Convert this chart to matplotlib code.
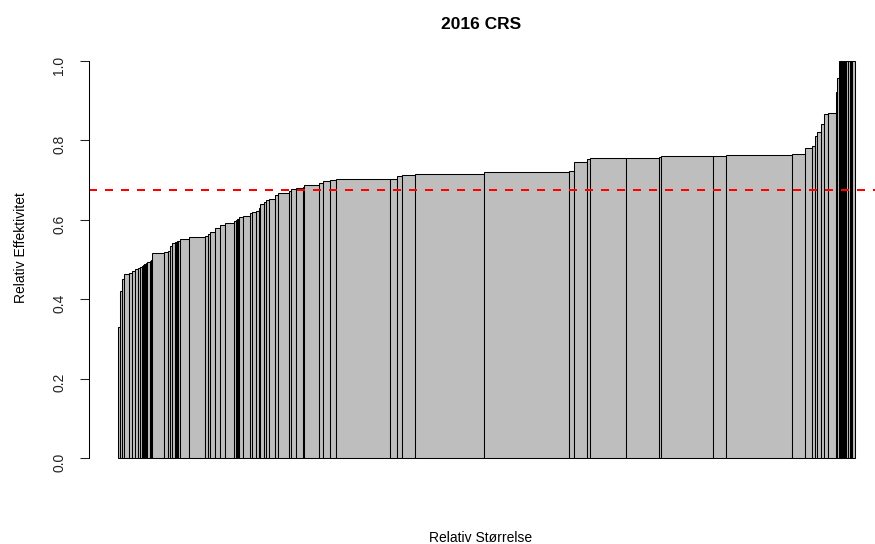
import matplotlib
matplotlib.use("Agg")
import matplotlib.pyplot as plt
import numpy as np

plt.rcParams['font.family'] = ['Liberation Sans', 'DejaVu Sans']

# relative size (bar width) and relative efficiency (bar height), sorted by efficiency
storrelse = [2.0, 2.0, 2.0, 5.0, 3.0, 2.7, 2.6, 2.7, 1.5, 1.0,
             1.0, 1.0, 1.0, 1.2, 2.6, 0.9, 0.8, 0.7, 11.6, 4.0,
             2.7, 1.7, 3.3, 1.0, 1.0, 1.0, 1.3, 9.0, 16.7, 2.3,
             2.0, 5.0, 5.0, 5.7, 8.3, 2.0, 1.0, 1.0, 1.4, 4.0,
             6.6, 2.7, 4.0, 2.3, 1.0, 4.0, 2.7, 2.7, 5.6, 3.4,
             10.6, 2.4, 5.3, 6.7, 1.0, 14.6, 4.4, 7.3, 6.0, 53.3,
             7.4, 5.0, 12.6, 69.0, 85.4, 5.3, 12.7, 2.6, 36.7, 32.3,
             2.7, 51.7, 12.6, 66.4, 13.3, 6.7, 2.6, 2.4, 4.0, 2.6,
             4.7, 7.3, 1.4, 1.8, 1.0, 1.0, 1.0, 1.0, 1.0, 0.8,
             1.7, 1.3, 2.7, 1.0, 0.7, 2.6]
effektivitet = [0.330, 0.421, 0.450, 0.463, 0.467, 0.470, 0.475, 0.479, 0.482, 0.484,
                0.486, 0.488, 0.489, 0.491, 0.494, 0.496, 0.497, 0.499, 0.516, 0.519,
                0.522, 0.535, 0.541, 0.544, 0.545, 0.546, 0.547, 0.551, 0.556, 0.559,
                0.564, 0.569, 0.579, 0.586, 0.593, 0.598, 0.600, 0.601, 0.602, 0.607,
                0.610, 0.616, 0.620, 0.623, 0.630, 0.641, 0.646, 0.650, 0.653, 0.662,
                0.667, 0.673, 0.678, 0.681, 0.684, 0.688, 0.694, 0.698, 0.700, 0.702,
                0.704, 0.710, 0.712, 0.715, 0.720, 0.724, 0.745, 0.753, 0.755, 0.756,
                0.759, 0.761, 0.762, 0.763, 0.767, 0.780, 0.787, 0.810, 0.821, 0.842,
                0.866, 0.868, 0.923, 0.958, 1.0, 1.0, 1.0, 1.0, 1.0, 1.0,
                1.0, 1.0, 1.0, 1.0, 1.0, 1.0]
snitt = 0.675

bredde = np.array(storrelse)
venstre = np.concatenate([[0], np.cumsum(bredde)[:-1]])
total = bredde.sum()

fig = plt.figure(figsize=(8.75, 5.44), dpi=100)
# plot region runs a little past the right edge of the figure
ax = fig.add_axes([0.1017, 0.1289, 0.9086, 0.788])

ax.bar(venstre, effektivitet, width=bredde, align='edge',
       color='#BEBEBE', edgecolor='black', linewidth=0.75)
ax.axhline(snitt, color='#FF0000', linewidth=1.44, linestyle=(0, (4, 4)))

ax.set_xlim(-0.04 * total, 1.04 * total)
ax.set_ylim(-0.04, 1.04)

for s in ['top', 'right', 'bottom']:
    ax.spines[s].set_visible(False)
ax.spines['left'].set_bounds(0, 1)
ax.spines['left'].set_linewidth(0.75)
ax.set_xticks([])
ax.set_yticks([0, 0.2, 0.4, 0.6, 0.8, 1.0])
ax.set_yticklabels(['0.0', '0.2', '0.4', '0.6', '0.8', '1.0'])
ax.tick_params(axis='y', length=6.5, width=0.75, pad=10, labelsize=10,
               labelrotation=90, colors='#222222')

ax.set_title('2016 CRS', fontsize=12.5, fontweight='bold', pad=11.5, x=0.493)
ax.set_ylabel('Relativ Effektivitet', fontsize=10)
ax.yaxis.set_label_coords(-0.077, 0.529)
ax.set_xlabel('Relativ Størrelse', fontsize=10)
ax.xaxis.set_label_coords(0.493, -0.133)

fig.savefig('out.png', dpi=100)
